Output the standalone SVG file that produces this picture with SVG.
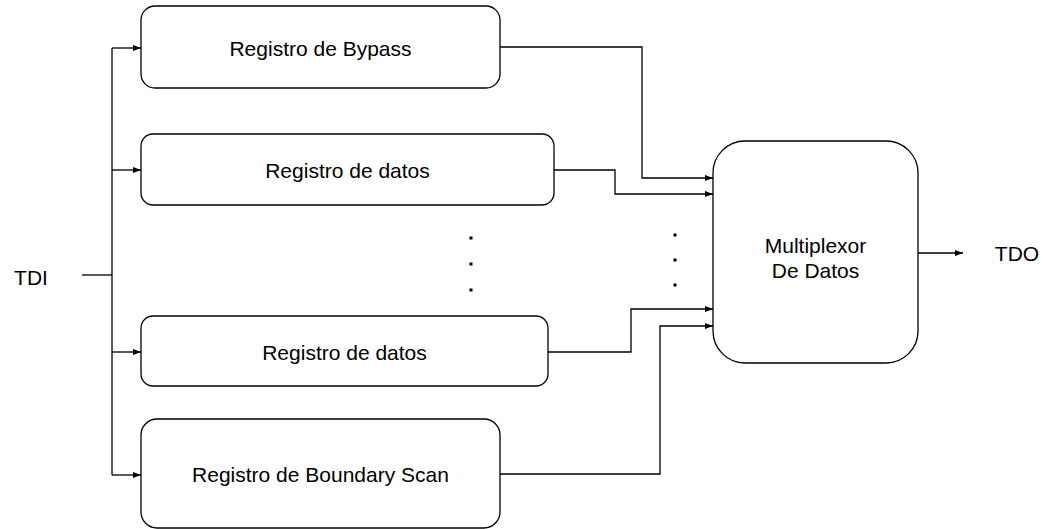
<svg xmlns="http://www.w3.org/2000/svg" width="1043" height="529" viewBox="0 0 1043 529">
<style>
.box{fill:#fff;stroke:#000;stroke-width:1.3}
.lbl{font-family:"Liberation Sans",Arial,sans-serif;font-size:21px;fill:#000;text-anchor:middle}
.ln{fill:none;stroke:#000;stroke-width:1.3}
.dot{fill:#000}
</style>
<defs>
<marker id="ah" markerUnits="userSpaceOnUse" markerWidth="9" markerHeight="7" refX="8" refY="3" orient="auto">
<path d="M0,0 L8,3 L0,6 z" fill="#000"/>
</marker>
</defs>
<rect width="1043" height="529" fill="#fff"/>
<g id="connectors">
<path class="ln" d="M82,275 H112"/>
<path class="ln" d="M112,48 V475"/>
<path class="ln" d="M112,48 H141" marker-end="url(#ah)"/>
<path class="ln" d="M112,170 H141" marker-end="url(#ah)"/>
<path class="ln" d="M112,352 H141" marker-end="url(#ah)"/>
<path class="ln" d="M112,475 H141" marker-end="url(#ah)"/>
<path class="ln" d="M500,47 H642 V178 H713" marker-end="url(#ah)"/>
<path class="ln" d="M554,170 H615 V194 H713" marker-end="url(#ah)"/>
<path class="ln" d="M548,352 H631 V309 H713" marker-end="url(#ah)"/>
<path class="ln" d="M500,474 H660 V326 H713" marker-end="url(#ah)"/>
<path class="ln" d="M918,253 H963" marker-end="url(#ah)"/>
</g>
<g id="bypass">
<rect class="box" x="141" y="6" width="359" height="82" rx="14"/>
<text class="lbl" x="320.5" y="56">Registro de Bypass</text>
</g>
<g id="datos1">
<rect class="box" x="141" y="134" width="413" height="71" rx="12"/>
<text class="lbl" x="347.5" y="178">Registro de datos</text>
</g>
<g id="datos2">
<rect class="box" x="141" y="316" width="407" height="70" rx="12"/>
<text class="lbl" x="344.5" y="360">Registro de datos</text>
</g>
<g id="boundary">
<rect class="box" x="141" y="419" width="359" height="109" rx="16"/>
<text class="lbl" x="320.5" y="482">Registro de Boundary Scan</text>
</g>
<g id="mux">
<rect class="box" x="713" y="141" width="205" height="222" rx="32"/>
<text class="lbl" x="815.5" y="253">Multiplexor</text>
<text class="lbl" x="815.5" y="278">De Datos</text>
</g>
<g id="tdi">
<text class="lbl" x="31" y="285">TDI</text>
</g>
<g id="tdo">
<text class="lbl" x="1017" y="261">TDO</text>
</g>
<g id="dots">
<rect class="dot" x="469.5" y="236.5" width="3" height="3"/>
<rect class="dot" x="469.5" y="262.5" width="3" height="3"/>
<rect class="dot" x="469.5" y="288.5" width="3" height="3"/>
<rect class="dot" x="673.5" y="233.5" width="3" height="3"/>
<rect class="dot" x="673.5" y="258.5" width="3" height="3"/>
<rect class="dot" x="673.5" y="283.5" width="3" height="3"/>
</g>
</svg>
